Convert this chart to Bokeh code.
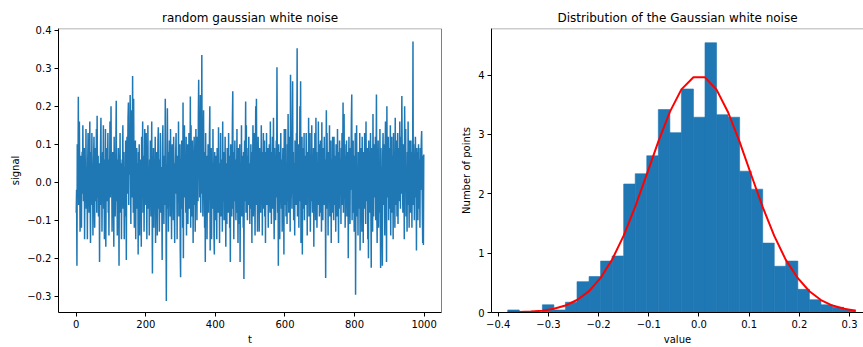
from bokeh.plotting import figure
from bokeh.models import Range1d, FixedTicker, CustomJSTickFormatter, Span
from bokeh.layouts import row
from bokeh.embed import file_html
from bokeh.resources import INLINE

# ---------------- data ----------------
signal = [
    -0.08, -0.02, -0.22, 0.10, 0.03, -0.01, 0.225, -0.06, 0.04, 0.16, 0.02, -0.13, -0.04, 0.07, 0.01, -0.12, 0.05, 0.08, -0.03, 0.15,
    0.03, -0.05, 0.00, 0.09, -0.15, 0.02, 0.06, -0.02, 0.14, -0.07, -0.01, 0.04, -0.15, 0.05, 0.13, -0.03, 0.01, -0.08, 0.07, 0.16,
    -0.04, -0.16, 0.02, 0.08, -0.01, 0.13, -0.06, 0.03, -0.14, 0.00, 0.06, 0.12, -0.02, -0.12, 0.04, 0.09, -0.05, 0.01, 0.14, -0.08,
    0.175, 0.02, -0.04, 0.07, -0.09, 0.00, 0.05, -0.21, 0.03, -0.01, 0.10, 0.17, -0.06, 0.04, -0.13, 0.01, 0.08, -0.03, 0.15, -0.07,
    0.03, -0.15, 0.06, -0.02, 0.14, -0.17, 0.01, 0.09, -0.05, -0.01, 0.04, 0.13, -0.08, 0.02, -0.14, 0.06, 0.00, 0.16, -0.04, 0.07,
    0.20, -0.03, 0.05, -0.13, 0.01, 0.08, -0.06, 0.03, -0.17, 0.12, -0.02, 0.04, -0.09, 0.00, 0.10, 0.215, -0.05, 0.02, -0.14, 0.06,
    0.01, 0.09, -0.04, -0.22, 0.07, -0.01, 0.13, -0.08, 0.03, 0.05, -0.15, 0.00, 0.06, -0.03, 0.15, -0.07, 0.02, 0.08, -0.15, -0.02,
    0.04, -0.09, 0.11, 0.01, -0.205, 0.06, 0.12, -0.03, 0.08, 0.17, 0.21, -0.06, 0.10, 0.14, 0.02, 0.23, 0.09, -0.11, 0.19, 0.05,
    0.13, -0.04, 0.28, 0.07, -0.08, 0.22, 0.03, -0.12, 0.06, 0.00, 0.11, -0.15, 0.04, -0.02, 0.09, -0.07, 0.01, 0.05, -0.19, 0.08,
    -0.01, 0.10, -0.14, 0.03, 0.06, -0.05, 0.00, -0.17, 0.12, -0.03, 0.04, 0.16, -0.08, 0.02, 0.07, -0.13, 0.01, 0.14, -0.04, 0.05,
    -0.06, 0.13, 0.02, -0.15, 0.08, -0.02, 0.15, -0.07, 0.00, 0.04, -0.14, 0.06, -0.03, 0.11, 0.01, -0.09, 0.03, 0.16, -0.05, -0.24,
    0.05, -0.03, 0.09, -0.12, 0.02, 0.06, -0.01, 0.12, -0.16, 0.03, -0.06, 0.08, 0.00, -0.14, 0.04, 0.11, 0.145, -0.07, 0.02, -0.13,
    0.06, -0.02, 0.13, -0.08, 0.01, 0.04, -0.05, -0.205, 0.09, 0.15, -0.03, 0.00, -0.11, 0.07, -0.06, 0.03, 0.22, 0.05, -0.09, -0.313,
    0.02, -0.07, 0.195, 0.04, -0.01, -0.13, 0.08, -0.04, 0.11, 0.00, -0.09, 0.14, 0.03, -0.02, -0.15, 0.06, 0.10, -0.05, 0.01, -0.10,
    0.12, 0.03, -0.06, -0.16, 0.05, -0.01, 0.08, 0.13, -0.03, 0.02, -0.15, 0.07, 0.00, -0.05, 0.16, -0.09, 0.04, 0.01, 0.10, -0.18,
    -0.25, 0.06, -0.02, 0.11, -0.07, 0.03, -0.12, 0.21, -0.20, 0.09, 0.00, 0.15, -0.04, 0.05, -0.01, -0.08, 0.12, -0.14, 0.07, 0.02,
    0.10, -0.11, 0.03, -0.04, 0.13, -0.07, 0.06, 0.00, 0.226, -0.12, 0.15, -0.03, 0.08, -0.09, 0.11, 0.02, -0.16, 0.05, -0.01, 0.12,
    -0.06, 0.09, -0.13, 0.04, 0.14, -0.02, 0.07, -0.10, 0.12, 0.01, -0.05, 0.17, 0.27, 0.03, 0.10, -0.04, 0.08, 0.23, -0.08, 0.13,
    0.05, 0.335, -0.03, 0.11, -0.09, 0.06, 0.19, -0.01, 0.08, -0.12, 0.02, -0.21, 0.13, -0.06, 0.00, 0.07, -0.15, 0.04, -0.02, 0.10,
    -0.08, 0.05, 0.00, 0.12, 0.20, -0.18, 0.06, -0.04, 0.09, -0.15, 0.02, -0.01, -0.07, 0.14, -0.03, 0.04, -0.14, -0.19, 0.08, 0.01,
    -0.10, 0.07, -0.04, 0.02, -0.15, 0.09, -0.01, 0.03, -0.08, 0.145, -0.06, 0.00, -0.16, 0.05, 0.01, 0.13, -0.09, 0.03, -0.03, 0.06,
    -0.13, 0.16, -0.05, 0.00, 0.08, -0.10, 0.04, -0.02, 0.12, -0.07, -0.17, 0.05, 0.02, -0.11, 0.09, -0.01, 0.03, -0.08, 0.13, -0.04,
    0.07, -0.12, 0.01, -0.21, 0.10, -0.03, 0.06, -0.09, 0.03, 0.17, 0.24, -0.07, 0.04, -0.15, 0.08, 0.00, 0.11, -0.05, 0.02, -0.10,
    0.06, -0.02, 0.14, -0.08, 0.01, -0.16, 0.09, -0.04, 0.05, -0.11, 0.10, -0.21, 0.00, 0.03, -0.06, 0.15, -0.09, 0.07, -0.01, 0.04,
    -0.12, 0.08, -0.255, 0.02, 0.11, -0.05, 0.06, 0.213, -0.08, 0.15, -0.03, 0.09, -0.10, 0.01, 0.07, -0.06, 0.12, 0.00, 0.04, -0.11,
    0.05, -0.07, 0.10, -0.02, 0.00, -0.16, 0.08, 0.01, 0.15, -0.09, 0.03, -0.04, 0.13, -0.01, -0.14, 0.06, 0.20, -0.06, 0.22, -0.02,
    0.07, -0.13, 0.02, 0.12, -0.05, 0.04, -0.13, 0.09, 0.00, 0.06, -0.08, 0.01, 0.15, -0.03, 0.08, -0.14, 0.03, -0.02, 0.13, -0.07,
    0.00, 0.11, -0.09, 0.05, -0.16, 0.08, -0.01, 0.13, -0.06, 0.03, 0.01, 0.09, -0.12, 0.06, -0.04, 0.10, -0.02, -0.08, 0.16, -0.03,
    0.04, -0.11, 0.08, 0.00, 0.12, -0.07, 0.01, 0.17, -0.05, -0.15, 0.09, -0.03, 0.06, -0.10, 0.02, 0.11, -0.04, 0.303, 0.07, -0.08,
    0.03, -0.22, 0.10, -0.01, 0.05, -0.15, 0.08, -0.04, 0.13, 0.00, -0.07, 0.06, -0.13, 0.02, 0.09, -0.03, 0.01, -0.19, 0.14, -0.06,
    0.07, -0.02, 0.14, -0.09, 0.04, 0.01, -0.11, 0.10, -0.05, 0.18, 0.03, -0.08, 0.12, 0.00, 0.06, -0.13, 0.283, 0.02, -0.04, 0.09,
    -0.07, 0.15, 0.266, -0.03, 0.08, -0.10, 0.05, 0.01, -0.14, 0.11, -0.02, 0.07, -0.06, 0.13, 0.03, 0.353, -0.09, 0.04, 0.00, 0.10,
    -0.12, 0.06, 0.00, 0.20, -0.05, 0.266, -0.16, 0.08, -0.02, 0.12, -0.19, 0.04, 0.09, -0.07, 0.01, 0.13, -0.10, 0.05, 0.02, 0.07,
    -0.06, 0.13, -0.01, 0.03, -0.14, 0.08, 0.00, -0.04, 0.17, -0.09, 0.05, 0.01, 0.13, -0.13, 0.02, 0.07, -0.05, 0.15, -0.02, -0.08,
    0.04, -0.02, 0.09, -0.17, 0.06, -0.07, 0.13, 0.01, -0.10, 0.17, -0.03, 0.08, -0.12, 0.00, 0.05, -0.06, 0.16, 0.02, 0.10, -0.09,
    0.02, -0.04, 0.11, -0.08, 0.07, -0.13, 0.158, -0.01, 0.04, -0.10, 0.09, 0.00, -0.06, 0.12, -0.03, 0.06, 0.01, -0.252, 0.03, 0.19,
    -0.07, 0.13, -0.02, 0.05, -0.14, 0.08, 0.01, -0.05, 0.15, -0.09, 0.03, 0.00, 0.11, -0.16, 0.06, 0.02, -0.08, 0.12, -0.03, 0.04,
    -0.10, 0.12, 0.00, 0.07, -0.06, 0.02, -0.13, 0.10, -0.01, 0.05, -0.09, 0.14, 0.01, -0.04, -0.16, 0.08, -0.07, 0.11, -0.02, 0.03,
    0.06, -0.11, 0.09, 0.00, 0.13, -0.06, 0.02, 0.21, -0.08, 0.05, 0.18, -0.03, 0.10, -0.12, -0.01, 0.07, -0.05, 0.11, -0.09, 0.01,
    -0.04, 0.08, -0.20, 0.04, 0.12, -0.07, 0.00, -0.11, 0.09, -0.02, 0.06, 0.17, 0.231, -0.10, 0.03, 0.01, 0.11, -0.08, 0.05, -0.13,
    0.07, -0.01, 0.13, -0.296, 0.02, -0.06, 0.15, -0.09, 0.04, 0.00, -0.14, 0.08, -0.03, 0.06, -0.07, 0.13, -0.18, 0.01, 0.09, -0.05,
    0.03, -0.13, 0.12, 0.00, 0.05, -0.16, 0.08, -0.02, -0.07, 0.13, -0.03, 0.02, -0.11, 0.16, -0.05, 0.07, 0.01, 0.09, -0.15, 0.04,
    -0.20, 0.11, -0.02, 0.06, -0.08, 0.00, 0.13, -0.06, -0.225, 0.09, -0.01, 0.05, -0.13, 0.18, 0.02, -0.09, 0.10, -0.04, 0.07, 0.00,
    0.12, -0.10, 0.03, 0.231, -0.07, -0.16, 0.08, -0.03, 0.11, -0.12, 0.05, -0.01, -0.08, 0.14, -0.05, -0.226, 0.09, -0.02, 0.04, -0.11,
    -0.22, 0.07, 0.13, -0.06, 0.10, -0.02, 0.01, -0.14, 0.08, 0.16, -0.09, 0.04, -0.21, 0.20, -0.04, 0.06, 0.00, 0.12, -0.10, 0.03,
    0.09, -0.07, 0.00, 0.15, -0.14, 0.05, -0.01, 0.12, -0.08, 0.02, 0.07, -0.15, 0.13, -0.04, -0.01, 0.08, -0.12, 0.17, -0.02, 0.04,
    -0.06, 0.11, -0.09, 0.03, 0.13, -0.11, 0.06, 0.00, 0.09, -0.05, 0.16, 0.01, -0.07, 0.12, -0.03, 0.05, 0.227, 0.08, -0.01, -0.08,
    0.10, -0.04, 0.05, -0.15, 0.20, 0.07, -0.02, 0.14, -0.09, 0.04, 0.00, -0.13, 0.08, -0.06, 0.16, -0.01, 0.02, -0.12, 0.11, -0.03,
    0.06, -0.08, 0.11, -0.01, 0.05, -0.12, 0.08, 0.00, 0.371, -0.06, 0.10, 0.03, -0.10, 0.07, -0.04, 0.12, 0.00, 0.04, -0.18, 0.09,
    -0.05, 0.08, -0.10, 0.02, 0.10, -0.07, 0.00, 0.06, -0.12, 0.09, -0.02, 0.04, 0.11, 0.135, 0.03, -0.08, -0.16, 0.07, -0.165, 0.073,
]
t = list(range(len(signal)))

bin_edges = [-0.381, -0.358, -0.335, -0.312, -0.289, -0.266, -0.243, -0.219, -0.196, -0.173, -0.150,
             -0.127, -0.104, -0.081, -0.058, -0.035, -0.011, 0.012, 0.035, 0.058, 0.081,
             0.104, 0.127, 0.150, 0.173, 0.197, 0.220, 0.243, 0.266, 0.289, 0.312]
density = [0.043, 0.0, 0.0, 0.130, 0.043, 0.173, 0.520, 0.606, 0.866, 0.952,
           2.165, 2.338, 2.641, 3.420, 3.030, 3.766, 3.290, 4.545, 3.333, 3.290,
           2.381, 2.078, 1.169, 0.779, 0.866, 0.390, 0.216, 0.130, 0.087, 0.043]
pdf_curve = [0.003, 0.007, 0.015, 0.031, 0.062, 0.118, 0.211, 0.361, 0.582, 0.892, 1.295,
             1.783, 2.327, 2.880, 3.380, 3.759, 3.963, 3.962, 3.755, 3.374, 2.874,
             2.321, 1.777, 1.290, 0.887, 0.578, 0.358, 0.210, 0.117, 0.062, 0.031]

left_xticks = [0, 200, 400, 600, 800, 1000]
left_yticks = [-0.3, -0.2, -0.1, 0.0, 0.1, 0.2, 0.3, 0.4]
right_xticks = [-0.4, -0.3, -0.2, -0.1, 0.0, 0.1, 0.2, 0.3]
right_yticks = [0, 1, 2, 3, 4]

FONT = "DejaVu Sans"
BLUE = "#1f77b4"

fmt1 = CustomJSTickFormatter(code="return tick.toFixed(1).replace('-', '\u2212');")
fmt0 = CustomJSTickFormatter(code="return tick.toFixed(0);")


def style(p, xt, yt, xfmt, yfmt, xlabel, ylabel):
    p.title.text_font = FONT
    p.title.text_font_size = "12px"
    p.title.text_font_style = "normal"
    p.title.text_color = "black"
    p.title.align = "center"
    p.title.standoff = 8
    p.outline_line_color = None
    p.grid.visible = False
    p.background_fill_color = "white"
    p.border_fill_color = "white"
    for ax, ticks, f, lab in ((p.xaxis[0], xt, xfmt, xlabel), (p.yaxis[0], yt, yfmt, ylabel)):
        ax.ticker = FixedTicker(ticks=ticks)
        if f is not None:
            ax.formatter = f
        ax.axis_label = lab
        ax.axis_label_text_font = FONT
        ax.axis_label_text_font_size = "10px"
        ax.axis_label_text_font_style = "normal"
        ax.axis_label_text_color = "black"
        ax.axis_label_standoff = 3
        ax.major_label_text_font = FONT
        ax.major_label_text_font_size = "10px"
        ax.major_label_text_color = "black"
        ax.major_label_standoff = 3
        ax.major_tick_out = 4
        ax.major_tick_in = 0
        ax.minor_tick_out = 0
        ax.minor_tick_in = 0
        ax.axis_line_color = "black"
        ax.axis_line_width = 1
        ax.major_tick_line_color = "black"


# ---------------- left: signal ----------------
p1 = figure(width=451, height=347, title="random gaussian white noise",
            x_range=Range1d(-51, 1050), y_range=Range1d(-0.343, 0.405),
            output_backend="svg", toolbar_location=None,
            min_border_left=58, min_border_right=10, min_border_top=28, min_border_bottom=35)
p1.line(t, signal, line_color=BLUE, line_width=1.5)
style(p1, left_xticks, left_yticks, None, fmt1, "t", "signal")
p1.add_layout(Span(location=0.405, dimension="width", line_color="#9a9a9a", line_width=1.5))
p1.add_layout(Span(location=1050, dimension="height", line_color="black", line_width=1))

# ---------------- right: histogram ----------------
p2 = figure(width=412, height=347, title="Distribution of the Gaussian white noise",
            x_range=Range1d(-0.41335, 0.3278), y_range=Range1d(0, 4.785),
            output_backend="svg", toolbar_location=None,
            min_border_left=40, min_border_right=0, min_border_top=28, min_border_bottom=35)
p2.quad(left=bin_edges[:-1], right=bin_edges[1:], bottom=0, top=density,
        fill_color=BLUE, line_color=BLUE, line_width=0.6)
p2.line(bin_edges, pdf_curve, line_color="#ff0000", line_width=2)
style(p2, right_xticks, right_yticks, fmt1, fmt0, "value", "Number of points")
p2.add_layout(Span(location=4.785, dimension="width", line_color="#9a9a9a", line_width=1.5))

layout = row(p1, p2)
open("out.html", "w").write(file_html(layout, INLINE))
